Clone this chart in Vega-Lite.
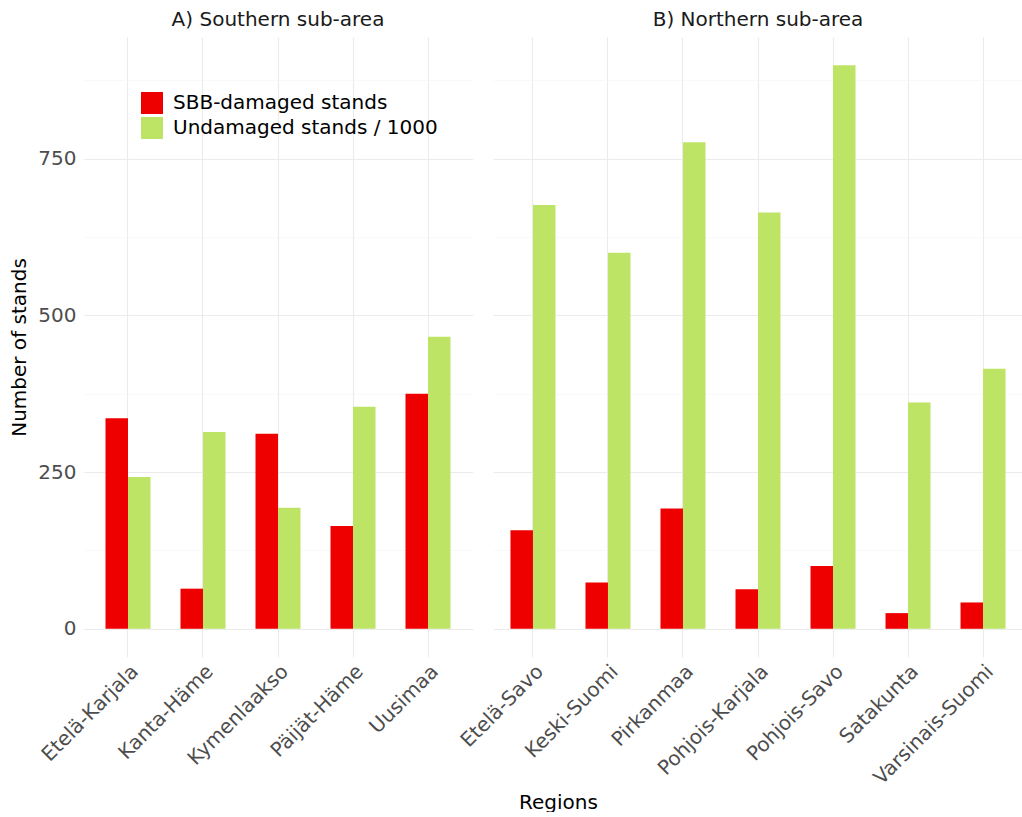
{
  "$schema": "https://vega.github.io/schema/vega-lite/v6.json",
  "background": "white",
  "padding": {"left": 9, "top": 10, "right": 0, "bottom": 0},
  "bounds": "flush",
  "spacing": 20,
  "config": {
    "view": {"stroke": null},
    "font": "DejaVu Sans",
    "axis": {
      "labelFont": "DejaVu Sans",
      "titleFont": "DejaVu Sans",
      "labelFontSize": 20,
      "titleFontSize": 20,
      "titleFontWeight": "normal",
      "labelColor": "#4d4d4d",
      "titleColor": "#000000",
      "ticks": false,
      "domain": false,
      "gridColor": "#ebebeb",
      "gridWidth": 1.1
    },
    "title": {"font": "DejaVu Sans", "fontSize": 20, "fontWeight": "normal", "color": "#1a1a1a", "anchor": "middle", "offset": 7}
  },
  "datasets": {
    "stands": [
      {"area": "A", "region": "Etelä-Karjala", "type": "SBB-damaged stands", "value": 336},
      {"area": "A", "region": "Etelä-Karjala", "type": "Undamaged stands / 1000", "value": 242},
      {"area": "A", "region": "Kanta-Häme", "type": "SBB-damaged stands", "value": 64},
      {"area": "A", "region": "Kanta-Häme", "type": "Undamaged stands / 1000", "value": 314},
      {"area": "A", "region": "Kymenlaakso", "type": "SBB-damaged stands", "value": 311},
      {"area": "A", "region": "Kymenlaakso", "type": "Undamaged stands / 1000", "value": 193},
      {"area": "A", "region": "Päijät-Häme", "type": "SBB-damaged stands", "value": 164},
      {"area": "A", "region": "Päijät-Häme", "type": "Undamaged stands / 1000", "value": 354},
      {"area": "A", "region": "Uusimaa", "type": "SBB-damaged stands", "value": 375},
      {"area": "A", "region": "Uusimaa", "type": "Undamaged stands / 1000", "value": 466},
      {"area": "B", "region": "Etelä-Savo", "type": "SBB-damaged stands", "value": 157},
      {"area": "B", "region": "Etelä-Savo", "type": "Undamaged stands / 1000", "value": 676},
      {"area": "B", "region": "Keski-Suomi", "type": "SBB-damaged stands", "value": 74},
      {"area": "B", "region": "Keski-Suomi", "type": "Undamaged stands / 1000", "value": 600},
      {"area": "B", "region": "Pirkanmaa", "type": "SBB-damaged stands", "value": 192},
      {"area": "B", "region": "Pirkanmaa", "type": "Undamaged stands / 1000", "value": 776},
      {"area": "B", "region": "Pohjois-Karjala", "type": "SBB-damaged stands", "value": 63},
      {"area": "B", "region": "Pohjois-Karjala", "type": "Undamaged stands / 1000", "value": 664},
      {"area": "B", "region": "Pohjois-Savo", "type": "SBB-damaged stands", "value": 100},
      {"area": "B", "region": "Pohjois-Savo", "type": "Undamaged stands / 1000", "value": 899},
      {"area": "B", "region": "Satakunta", "type": "SBB-damaged stands", "value": 25},
      {"area": "B", "region": "Satakunta", "type": "Undamaged stands / 1000", "value": 361},
      {"area": "B", "region": "Varsinais-Suomi", "type": "SBB-damaged stands", "value": 42},
      {"area": "B", "region": "Varsinais-Suomi", "type": "Undamaged stands / 1000", "value": 415}
    ]
  },
  "resolve": {"scale": {"color": "independent"}, "legend": {"color": "independent"}},
  "hconcat": [
    {
      "width": 390,
      "height": 620,
      "title": {"text": "A) Southern sub-area"},
      "data": {"name": "stands"},
      "transform": [{"filter": "datum.area === 'A'"}],
      "mark": {"type": "bar"},
      "encoding": {
        "x": {
          "field": "region", "type": "nominal", "sort": null,
          "scale": {"paddingInner": 0.4, "paddingOuter": 0.3},
          "axis": {"title": null, "grid": true, "labelAngle": -45, "labelAlign": "right", "labelBaseline": "top", "labelPadding": 4}
        },
        "xOffset": {"field": "type", "type": "nominal", "scale": {"paddingInner": 0, "paddingOuter": 0}},
        "y": {
          "field": "value", "type": "quantitative",
          "scale": {"domain": [-45, 944], "nice": false, "zero": false},
          "axis": {
            "title": "Number of stands",
            "titlePadding": 8,
            "labelPadding": 7,
            "values": [0, 125, 250, 375, 500, 625, 750, 875],
            "labelExpr": "datum.value % 250 === 0 ? datum.label : ''",
            "gridColor": {"condition": {"test": "datum.value % 250 === 0", "value": "#ebebeb"}, "value": "#f5f5f5"},
            "gridWidth": {"condition": {"test": "datum.value % 250 === 0", "value": 1.1}, "value": 0.6}
          }
        },
        "y2": {"datum": 0},
        "color": {
          "field": "type", "type": "nominal",
          "scale": {"domain": ["SBB-damaged stands", "Undamaged stands / 1000"], "range": ["#ee0000", "#bee466"]},
          "legend": {
            "orient": "none", "legendX": 58, "legendY": 55, "title": null,
            "symbolType": "square", "symbolSize": 484, "symbolStrokeWidth": 0, "symbolOpacity": 1,
            "labelFontSize": 20, "labelColor": "#000000", "labelFont": "DejaVu Sans", "labelLimit": 0,
            "labelOffset": 10, "rowPadding": 3, "padding": 0
          }
        }
      }
    },
    {
      "width": 530,
      "height": 620,
      "title": {"text": "B) Northern sub-area"},
      "data": {"name": "stands"},
      "transform": [{"filter": "datum.area === 'B'"}],
      "mark": {"type": "bar"},
      "encoding": {
        "x": {
          "field": "region", "type": "nominal", "sort": null,
          "scale": {"paddingInner": 0.4, "paddingOuter": 0.233},
          "axis": {"title": "Regions", "titleX": 65, "titleY": 151, "titleBaseline": "alphabetic", "grid": true, "labelAngle": -45, "labelAlign": "right", "labelBaseline": "top", "labelPadding": 4}
        },
        "xOffset": {"field": "type", "type": "nominal", "scale": {"paddingInner": 0, "paddingOuter": 0}},
        "y": {
          "field": "value", "type": "quantitative",
          "scale": {"domain": [-45, 944], "nice": false, "zero": false},
          "axis": {
            "title": null,
            "labels": false,
            "values": [0, 125, 250, 375, 500, 625, 750, 875],
            "gridColor": {"condition": {"test": "datum.value % 250 === 0", "value": "#ebebeb"}, "value": "#f5f5f5"},
            "gridWidth": {"condition": {"test": "datum.value % 250 === 0", "value": 1.1}, "value": 0.6}
          }
        },
        "y2": {"datum": 0},
        "color": {
          "field": "type", "type": "nominal",
          "scale": {"domain": ["SBB-damaged stands", "Undamaged stands / 1000"], "range": ["#ee0000", "#bee466"]},
          "legend": null
        }
      }
    }
  ]
}
